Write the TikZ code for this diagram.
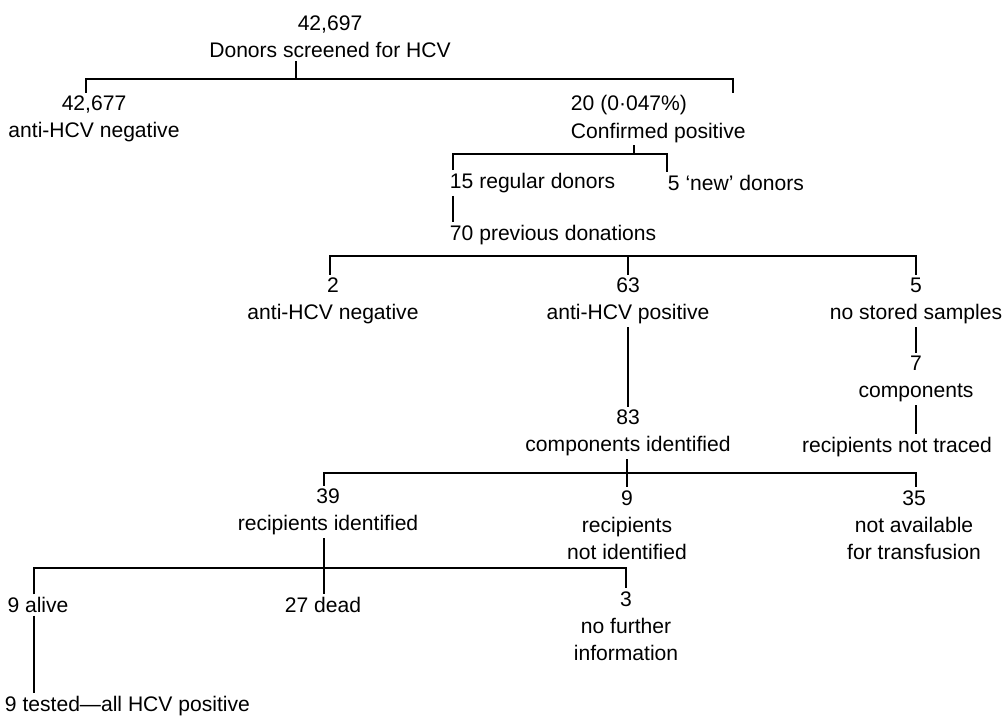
\documentclass[tikz,border=0pt]{standalone}
\usepackage{fontspec}
\setmainfont{Liberation Sans}
\usetikzlibrary{positioning}
\tikzset{
  lbl/.style={font=\fontsize{12}{15.5}\selectfont, align=center, inner sep=1.5pt},
  lnk/.style={line width=1pt},
  brk/.style={line width=1.3pt},
}

\begin{document}
\begin{tikzpicture}[x=0.02cm,y=-0.02cm]
\useasboundingbox (0,0) rectangle (1006,720);

% level 0 and 1
\node[lbl] (donors) at (330,37) {42,697\\Donors screened for HCV};
\node[lbl] (neg) at (94,119) {42,677\\anti-HCV negative};
\node[lbl,align=left,anchor=west] (conf) at (568,119) {20 (0·047\%)\\Confirmed positive};
\node[lbl,anchor=west] (reg) at (447,183) {15 regular donors};
\node[lbl,anchor=west] (new) at (665,183) {5 `new' donors};
\node[lbl,anchor=west] (prev) at (447,235) {70 previous donations};

% level 2
\node[lbl] (a2) at (333,301) {2\\anti-HCV negative};
\node[lbl] (a63) at (628,301) {63\\anti-HCV positive};
\node[lbl] (a5) at (916,301) {5\\no stored samples};
\node[lbl] (c7) at (916,379) {7\\components};
\node[lbl] (rnt) at (897,447) {recipients not traced};
\node[lbl] (c83) at (628,433) {83\\components identified};

% level 3
\node[lbl] (r39) at (328,512) {39\\recipients identified};
\node[lbl] (r9) at (627,525) {9\\recipients\\not identified};
\node[lbl] (n35) at (914,525) {35\\not available\\for transfusion};
\node[lbl] (alive) at (38,605) {9 alive};
\node[lbl] (dead) at (323,605) {27 dead};
\node[lbl] (n3) at (626,626) {3\\no further\\information};
\node[lbl,anchor=west] (tested) at (2,706) {9 tested---all HCV positive};

% brackets
\coordinate (b1l) at (86,79);
\coordinate (b1s) at (296,79);
\coordinate (b1r) at (733,79);
\coordinate (b2l) at (453,154);
\coordinate (b2s) at (634,154);
\coordinate (b2r) at (667,154);
\coordinate (b3l) at (330,256);
\coordinate (b3m) at (628,256);
\coordinate (b3r) at (916,256);
\coordinate (b4l) at (324,473);
\coordinate (b4m) at (627,473);
\coordinate (b4r) at (916,473);
\coordinate (b5l) at (34,568);
\coordinate (b5r) at (626,568);

\draw[lnk] (b1s |- donors.south) -- (b1s);
\draw[brk] (b1l |- neg.north) -- (b1l) -- (b1r) -- (b1r |- conf.north);
\draw[lnk] (b2s |- conf.south) -- (b2s);
\draw[brk] (b2l |- reg.north) -- (b2l) -- (b2r) -- (b2r |- new.north);
\draw[lnk] (b2l |- reg.south) -- (b2l |- prev.north);
\draw[brk] (b3l |- a2.north) -- (b3l) -- (b3r) -- (b3r |- a5.north);
\draw[lnk] (b3m) -- (b3m |- a63.north);
\draw[lnk] (b3m |- a63.south) -- (b3m |- c83.north);
\draw[lnk] (b3r |- a5.south) -- (b3r |- c7.north);
\draw[lnk] (b3r |- c7.south) -- (b3r |- rnt.north);
\draw[lnk] (b4m |- c83.south) -- (b4m |- r9.north);
\draw[brk] (b4l |- r39.north) -- (b4l) -- (b4r) -- (b4r |- n35.north);
\draw[lnk] (b4l |- r39.south) -- (b4l |- dead.north);
\draw[brk] (b5l |- alive.north) -- (b5l) -- (b5r) -- (b5r |- n3.north);
\draw[lnk] (b5l |- alive.south) -- (b5l |- tested.north);
\end{tikzpicture}
\end{document}
